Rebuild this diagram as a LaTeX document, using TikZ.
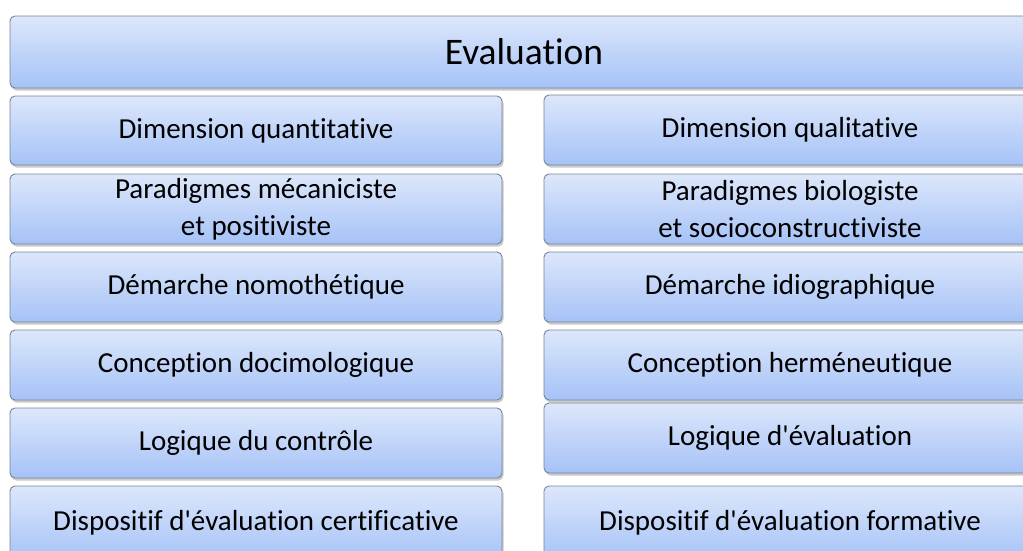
\documentclass[tikz,border=0pt]{standalone}
\usepackage{fontspec}
\setmainfont{Carlito}[Ligatures=CommonOff]
\usetikzlibrary{shadows}
\definecolor{celltop}{HTML}{DDE7FB}
\definecolor{cellbot}{HTML}{A5C2F7}
\definecolor{cellline}{HTML}{76849A}
\tikzset{
  cell/.style={rectangle, rounded corners=5pt, draw=cellline, line width=0.9pt,
    top color=celltop, bottom color=cellbot, align=center, inner sep=0pt,
    font=\fontsize{29}{37}\selectfont, text=black,
    drop shadow={shadow xshift=1.5pt, shadow yshift=-2.5pt, opacity=0.35, fill=black!60}},
  titlecell/.style={cell, font=\fontsize{37.5}{45}\selectfont},
  lcell/.style={cell, minimum width=492pt},
  rcell/.style={cell, minimum width=492pt}
}
\begin{document}
\begin{tikzpicture}[x=1pt, y=-1pt]
\useasboundingbox (0,0) rectangle (1023,550);
\clip (0,0) rectangle (1023,550);
\node[titlecell, minimum width=1028pt, minimum height=72pt] (title) at (524,52) {Evaluation};
% left column
\node[lcell, minimum height=69pt] (l1) at (256,130.5) {Dimension quantitative};
\node[lcell, minimum height=70pt] (l2) at (256,209) {Paradigmes mécaniciste\\et positiviste};
\node[lcell, minimum height=70pt] (l3) at (256,287) {Démarche nomothétique};
\node[lcell, minimum height=70pt] (l4) at (256,365) {Conception docimologique};
\node[lcell, minimum height=70pt] (l5) at (256,443) {Logique du contrôle};
\node[lcell, minimum height=74pt] (l6) at (256,523) {Dispositif d\textquotesingle évaluation certificative};
% right column
\node[rcell, minimum height=70pt] (r1) at (790,130) {Dimension qualitative};
\node[rcell, minimum height=70pt] (r2) at (790,209) {Paradigmes biologiste\\et socioconstructiviste};
\node[rcell, minimum height=70pt] (r3) at (790,287) {Démarche idiographique};
\node[rcell, minimum height=70pt] (r4) at (790,365) {Conception herméneutique};
\node[rcell, minimum height=70pt] (r5) at (790,438) {Logique d\textquotesingle évaluation};
\node[rcell, minimum height=74pt] (r6) at (790,523) {Dispositif d\textquotesingle évaluation formative};
\end{tikzpicture}
\end{document}
